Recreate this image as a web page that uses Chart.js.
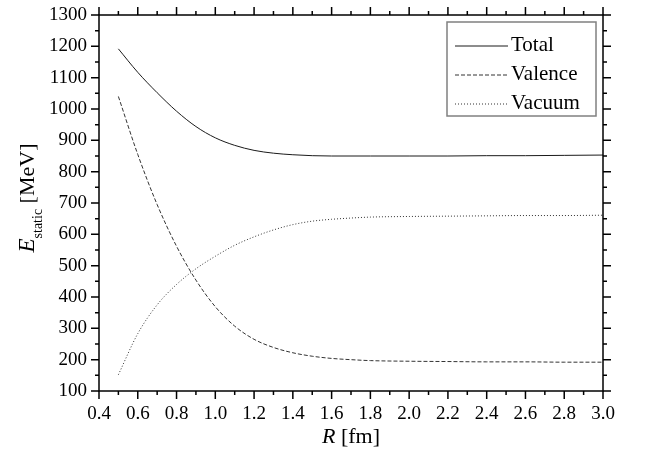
<!DOCTYPE html>
<html>
<head>
    <title>E static vs R</title>
    <script src="https://cdn.jsdelivr.net/npm/chart.js"></script>
    <style>
        html, body { margin: 0; padding: 0; background: #fff; }
        #wrap { width: 645px; height: 455px; }
    </style>
</head>
<body>
    <div id="wrap"><canvas id="chart" width="645" height="455"></canvas></div>
    <script>
        const radius = [0.5, 0.6, 0.7, 0.8, 0.9, 1.0, 1.1, 1.2, 1.3, 1.4, 1.5, 1.6, 1.7, 1.8, 2.0, 2.2, 2.4, 2.6, 2.8, 3.0];
        const total   = [1192, 1117, 1052, 993, 944, 908, 884, 868, 859, 854, 851, 850, 850, 850, 850, 850, 851, 851, 852, 853];
        const valence = [1040, 855, 695, 562, 454, 369, 307, 265, 239, 222, 211, 204, 200, 197, 195, 194, 193, 193, 192, 192];
        const vacuum  = [152, 283, 375, 440, 490, 530, 565, 592, 614, 631, 642, 648, 652, 655, 657, 658, 659, 660, 660, 661];
        const seriesNames = ['Total', 'Valence', 'Vacuum'];

        const serif = 'Liberation Serif, DejaVu Serif, serif';
        const ink = '#000';
        Chart.defaults.font.family = serif;
        Chart.defaults.color = ink;

        function pts(ys) {
            return radius.map((r, i) => ({ x: r, y: ys[i] }));
        }

        // ticks on all four sides, pointing outwards, plus the frame
        const frame = {
            id: 'frame',
            afterDraw(chart) {
                const ctx = chart.ctx;
                const a = chart.chartArea;
                const xs = chart.scales.x, ys = chart.scales.y;
                ctx.save();
                ctx.strokeStyle = ink;
                ctx.lineWidth = 1.5;
                ctx.strokeRect(a.left, a.top, a.right - a.left, a.bottom - a.top);
                ctx.beginPath();
                for (let i = 4; i <= 30; i++) {
                    const px = xs.getPixelForValue(i / 10);
                    const len = i % 2 === 0 ? 8 : 4;
                    ctx.moveTo(px, a.bottom); ctx.lineTo(px, a.bottom + len);
                    ctx.moveTo(px, a.top); ctx.lineTo(px, a.top - len);
                }
                for (let v = 100; v <= 1300; v += 50) {
                    const py = ys.getPixelForValue(v);
                    const len = v % 100 === 0 ? 8 : 4;
                    ctx.moveTo(a.left, py); ctx.lineTo(a.left - len, py);
                    ctx.moveTo(a.right, py); ctx.lineTo(a.right + len, py);
                }
                ctx.stroke();

                // axis titles
                ctx.fillStyle = ink;
                ctx.textBaseline = 'alphabetic';
                ctx.textAlign = 'left';
                const cx = (a.left + a.right) / 2;
                ctx.font = 'italic 22px ' + serif;
                const wR = ctx.measureText('R').width;
                ctx.font = '22px ' + serif;
                const wRest = ctx.measureText(' [fm]').width;
                let x0 = cx - (wR + wRest) / 2;
                ctx.font = 'italic 22px ' + serif;
                ctx.fillText('R', x0, 443);
                ctx.font = '22px ' + serif;
                ctx.fillText(' [fm]', x0 + wR, 443);

                ctx.translate(34, 198);
                ctx.rotate(-Math.PI / 2);
                ctx.font = 'italic 23px ' + serif;
                const wE = ctx.measureText('E').width;
                ctx.font = '14px ' + serif;
                const wS = ctx.measureText('static').width;
                ctx.font = '22px ' + serif;
                const wU = ctx.measureText(' [MeV]').width;
                x0 = -(wE + wS + wU) / 2;
                ctx.font = 'italic 23px ' + serif;
                ctx.fillText('E', x0, 0);
                ctx.font = '14px ' + serif;
                ctx.fillText('static', x0 + wE, 8);
                ctx.font = '22px ' + serif;
                ctx.fillText(' [MeV]', x0 + wE + wS, 0);
                ctx.restore();

                // legend box inside the plot, top right
                ctx.save();
                const bx = a.right - 156, by = a.top + 7, bw = 149, bh = 94;
                ctx.strokeStyle = '#808080';
                ctx.lineWidth = 1.5;
                ctx.strokeRect(bx, by, bw, bh);
                ctx.font = '21px ' + serif;
                ctx.fillStyle = ink;
                chart.data.datasets.forEach((ds, i) => {
                    const ly = by + 24 + i * 29;
                    ctx.strokeStyle = ds.borderColor;
                    ctx.lineWidth = 1;
                    ctx.setLineDash(ds.borderDash || []);
                    ctx.beginPath();
                    ctx.moveTo(bx + 8, ly);
                    ctx.lineTo(bx + 61, ly);
                    ctx.stroke();
                    ctx.fillText(ds.label, bx + 64, ly + 5);
                });
                ctx.restore();
            }
        };

        new Chart(document.getElementById('chart'), {
            type: 'line',
            data: {
                datasets: [
                    { label: seriesNames[0], data: pts(total), borderColor: '#1a1a1a', borderWidth: 1, borderDash: [] },
                    { label: seriesNames[1], data: pts(valence), borderColor: '#333', borderWidth: 1, borderDash: [4, 2] },
                    { label: seriesNames[2], data: pts(vacuum), borderColor: '#333', borderWidth: 1, borderDash: [1, 2] }
                ]
            },
            options: {
                responsive: false,
                animation: false,
                devicePixelRatio: 1,
                layout: { padding: { top: 15, right: 42, left: 0, bottom: 0 } },
                elements: {
                    point: { radius: 0 },
                    line: { cubicInterpolationMode: 'monotone', fill: false }
                },
                plugins: {
                    legend: { display: false },
                    tooltip: { enabled: false }
                },
                scales: {
                    x: {
                        type: 'linear',
                        min: 0.4,
                        max: 3.0,
                        afterFit(s) { s.height = 64; s.paddingLeft = 0; s.paddingRight = 0; },
                        grid: { display: false, drawTicks: false },
                        border: { display: false },
                        ticks: {
                            stepSize: 0.2,
                            padding: 12,
                            color: ink,
                            font: { family: serif, size: 19 },
                            maxRotation: 0,
                            autoSkip: false,
                            callback: v => Number(v).toFixed(1)
                        }
                    },
                    y: {
                        min: 100,
                        max: 1300,
                        afterFit(s) { s.width = 99; s.paddingTop = 0; s.paddingBottom = 0; },
                        grid: { display: false, drawTicks: false },
                        border: { display: false },
                        ticks: {
                            stepSize: 100,
                            padding: 12,
                            color: ink,
                            font: { family: serif, size: 19 },
                            autoSkip: false,
                            callback: v => String(v)
                        }
                    }
                }
            },
            plugins: [frame]
        });
    </script>
</body>
</html>
